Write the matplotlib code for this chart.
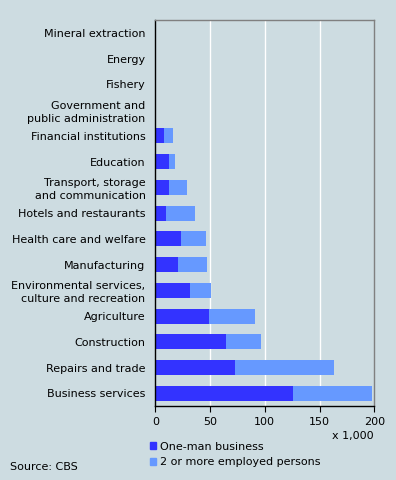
import matplotlib
matplotlib.use("Agg")
import matplotlib.pyplot as plt
from matplotlib.patches import Patch

categories = [
    "Business services", "Repairs and trade", "Construction", "Agriculture",
    "Environmental services,\nculture and recreation", "Manufacturing",
    "Health care and welfare", "Hotels and restaurants",
    "Transport, storage\nand communication", "Education",
    "Financial institutions", "Government and\npublic administration",
    "Fishery", "Energy", "Mineral extraction",
]
one_man = [125.5, 73, 64.5, 49, 31.5, 20.5, 23.5, 10, 12.5, 12.5, 8, 0, 0, 0, 0]
two_more = [72.5, 90, 32, 42.5, 19.5, 26.5, 22.5, 26, 16.5, 5.5, 8, 0, 0, 0, 0]
xticks = [0, 50, 100, 150, 200]

bg = "#cddce1"
c1 = "#3333ff"
c2 = "#6699ff"
fs = 8

fig = plt.figure(figsize=(3.96, 4.8), dpi=100, facecolor=bg)
ax = fig.add_axes([155.3/396, 1-406.3/480, (374.3-155.3)/396, (406.3-20)/480])
ax.set_facecolor(bg)

y = list(range(len(categories)))
ax.barh(y, one_man, height=0.58, color=c1, zorder=3)
ax.barh(y, two_more, left=one_man, height=0.58, color=c2, zorder=3)

ax.set_xlim(0, 200)
ax.set_ylim(-0.5, len(categories) - 0.5)
ax.set_xticks(xticks)
ax.set_xticklabels([str(t) for t in xticks], fontsize=fs)
ax.set_yticks(y)
ax.set_yticklabels(categories, fontsize=fs, linespacing=1.3)
ax.tick_params(axis="y", length=0, pad=7)
ax.tick_params(axis="x", length=4, width=0.8, pad=4, direction="out")
for t in xticks[1:-1]:
    ax.axvline(t, color="white", lw=1.0, zorder=1)

ax.spines["left"].set_color("black")
ax.spines["bottom"].set_color("black")
ax.spines["top"].set_color("#808080")
ax.spines["right"].set_color("#808080")
for s in ax.spines.values():
    s.set_linewidth(1.0)
    s.set_zorder(4)

fig.text(374/396, 1-436/480, "x 1,000", ha="right", va="center", fontsize=fs)

handles = [Patch(color=c1, label="One-man business"),
           Patch(color=c2, label="2 or more employed persons")]
fig.legend(handles=handles, loc="upper left", bbox_to_anchor=(149.5/396, 1-441.5/480),
           frameon=False, fontsize=fs, handlelength=0.6, handleheight=0.6,
           handletextpad=0.35, labelspacing=0.5, borderpad=0, borderaxespad=0)

fig.text(10/396, 1-467/480, "Source: CBS", ha="left", va="center", fontsize=fs)

fig.savefig("out.png", dpi=100, facecolor=bg)
